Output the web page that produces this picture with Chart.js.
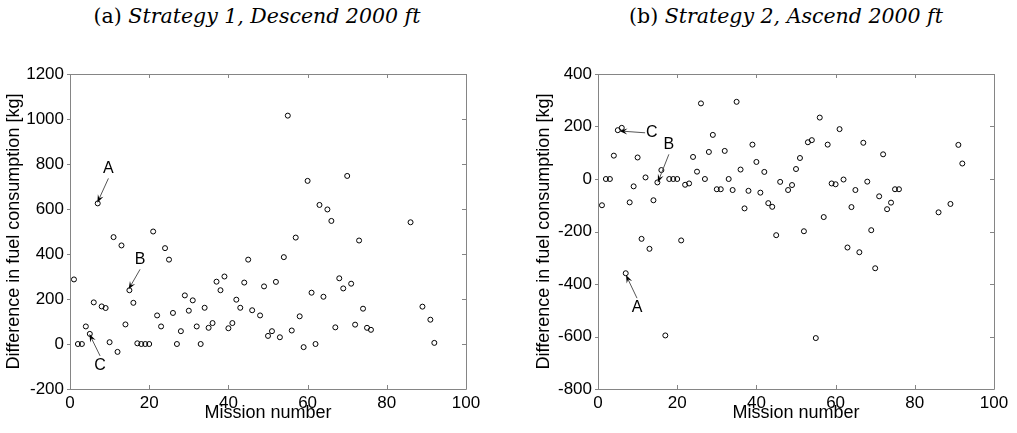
<!DOCTYPE html>
<html><head><meta charset="utf-8">
<script src="https://cdn.jsdelivr.net/npm/chart.js@4.4.1/dist/chart.umd.min.js"></script>
<style>
html,body{margin:0;padding:0;background:#fff;width:1017px;height:433px;overflow:hidden;}
.wrap{position:absolute;top:0;height:433px;}
.title{position:absolute;top:3px;font-family:"DejaVu Serif",serif;font-size:20.5px;line-height:26px;color:#000;white-space:nowrap;transform:translateX(-50%);}
</style></head><body>
<div class="title" style="left:257px">(a) <i>Strategy 1, Descend 2000 ft</i></div>
<div class="title" style="left:786px">(b) <i>Strategy 2, Ascend 2000 ft</i></div>
<div class="wrap" style="left:0;width:508px"><canvas id="c1" width="508" height="433"></canvas></div>
<div class="wrap" style="left:508px;width:509px"><canvas id="c2" width="509" height="433"></canvas></div>
<script>
// ---- data ----
const missions = [1,2,3,4,5,6,7,8,9,10,11,12,13,14,15,16,17,18,19,20,21,22,23,24,25,26,27,28,29,30,31,32,33,34,35,36,37,38,39,40,41,42,43,44,45,46,
  48,49,50,51,52,53,54,55,56,57,58,59,60,61,62,63,64,65,66,67,68,69,70,71,72,73,74,75,76,86,89,91,92];
const fuelDescend = [287,0,0,78,45,185,625,167,160,8,475,-35,438,87,239,183,3,0,0,0,500,127,78,426,375,138,0,57,216,148,194,78,0,161,72,93,277,239,300,70,93,197,161,273,375,150,
  127,256,36,57,276,30,386,1015,60,473,123,-14,725,228,0,618,210,598,547,74,292,247,747,268,86,460,157,72,63,541,166,108,5];
const fuelAscend = [-100,0,0,89,186,195,-359,-89,-28,82,-228,6,-266,-81,-13,34,-596,0,0,0,-234,-22,-17,84,28,288,0,103,168,-39,-39,107,0,-42,294,36,-112,-45,131,65,-52,27,-92,-106,-214,-11,
  -42,-23,38,80,-199,140,148,-606,234,-145,131,-17,-20,190,-2,-261,-107,-42,-279,138,-10,-195,-340,-66,94,-115,-90,-39,-39,-127,-95,130,59];
const xTicks = [0,20,40,60,80,100];
const yTicksDescend = [-200,0,200,400,600,800,1000,1200];
const yTicksAscend = [-800,-600,-400,-200,0,200,400];
const xLabel = 'Mission number';
const yLabel = 'Difference in fuel consumption [kg]';
// annotation labels: [text, textX, textY, tailX, tailY, headX, headY] in data units
const notesDescend = [['A',9.7,778,9.7,736,6.9,628],['B',17.7,376,17.7,332,14.8,243],['C',7.6,-98,7.6,-53,4.9,44]];
const notesAscend = [['C',13.6,176,11.9,176,5.4,183],['B',17.9,132,17.9,94,15.1,-13],['A',9.85,-490,9.85,-454,7.07,-366]];

const FRAME = '#858585';
const SANS = '"Liberation Sans", Arial, sans-serif';
const boxPlugin = {
  id: 'box',
  afterDatasetsDraw(chart, args, opts) {
    const ctx = chart.ctx, a = chart.chartArea;
    const xs = chart.scales.x, ys = chart.scales.y;
    ctx.save();
    ctx.strokeStyle = FRAME; ctx.lineWidth = 1;
    ctx.beginPath();
    ctx.rect(Math.round(a.left)+0.5, Math.round(a.top)+0.5, Math.round(a.right-a.left), Math.round(a.bottom-a.top));
    ctx.stroke();
    ctx.beginPath();
    const T = 4;
    opts.xt.forEach(v => {
      const px = Math.round(xs.getPixelForValue(v))+0.5;
      ctx.moveTo(px, a.bottom); ctx.lineTo(px, a.bottom - T);
      ctx.moveTo(px, a.top); ctx.lineTo(px, a.top + T);
    });
    opts.yt.forEach(v => {
      const py = Math.round(ys.getPixelForValue(v))+0.5;
      ctx.moveTo(a.left - 3, py); ctx.lineTo(a.left + 1, py);
      ctx.moveTo(a.right, py); ctx.lineTo(a.right - T, py);
    });
    ctx.stroke();
    // annotations
    opts.notes.forEach(n => {
      const [t, tx, ty, x0, y0, x1, y1] = n;
      const X0 = xs.getPixelForValue(x0), Y0 = ys.getPixelForValue(y0);
      const X1 = xs.getPixelForValue(x1), Y1 = ys.getPixelForValue(y1);
      const ang = Math.atan2(Y1 - Y0, X1 - X0);
      const L = 8, W = 3;
      const cx = Math.cos(ang), sy = Math.sin(ang);
      ctx.strokeStyle = '#555'; ctx.lineWidth = 1;
      ctx.beginPath(); ctx.moveTo(X0, Y0); ctx.lineTo(X1 - cx*L*0.6, Y1 - sy*L*0.6); ctx.stroke();
      ctx.fillStyle = '#000';
      ctx.beginPath();
      ctx.moveTo(X1, Y1);
      ctx.lineTo(X1 - cx*L - sy*W, Y1 - sy*L + cx*W);
      ctx.lineTo(X1 - cx*L*0.6, Y1 - sy*L*0.6);
      ctx.lineTo(X1 - cx*L + sy*W, Y1 - sy*L - cx*W);
      ctx.closePath(); ctx.fill();
      ctx.font = '16px ' + SANS;
      ctx.textAlign = 'center'; ctx.textBaseline = 'middle';
      ctx.fillText(t, xs.getPixelForValue(tx), ys.getPixelForValue(ty));
    });
    ctx.restore();
  }
};

function makeChart(id, values, yt, notes, yWidth, padRight, titlePad) {
  return new Chart(document.getElementById(id), {
    type: 'scatter',
    data: { datasets: [{ data: missions.map((m, i) => ({x: m, y: values[i]})),
      pointStyle: 'circle', pointRadius: 2.5, pointHoverRadius: 2.5, borderWidth: 1,
      borderColor: '#000', backgroundColor: 'rgba(0,0,0,0)' }] },
    options: {
      responsive: false, animation: false, devicePixelRatio: 1,
      layout: { padding: { left: 0, right: padRight, top: 74, bottom: 0 } },
      plugins: { legend: { display: false }, tooltip: { enabled: false }, box: { xt: xTicks, yt: yt, notes: notes } },
      scales: {
        x: { type: 'linear', min: 0, max: 100,
          afterBuildTicks: s => { s.ticks = xTicks.map(v => ({value: v})); },
          afterFit: s => { s.height = 44; },
          grid: { display: false, drawTicks: false }, border: { display: false },
          ticks: { color: '#000', padding: 4, callback: v => String(v), font: { family: SANS, size: 17 } },
          title: { display: true, text: xLabel, color: '#000', padding: { top: 0, bottom: 9 },
            font: { family: SANS, size: 18 } } },
        y: { type: 'linear', min: yt[0], max: yt[yt.length - 1],
          afterBuildTicks: s => { s.ticks = yt.map(v => ({value: v})); },
          afterFit: s => { s.width = yWidth; },
          grid: { display: false, drawTicks: false }, border: { display: false },
          ticks: { color: '#000', padding: 6, callback: v => String(v), font: { family: SANS, size: 17 } },
          title: { display: true, text: yLabel, color: '#000', padding: { top: titlePad, bottom: 0 },
            font: { family: SANS, size: 18 } } }
      }
    },
    plugins: [boxPlugin]
  });
}
makeChart('c1', fuelDescend, yTicksDescend, notesDescend, 70, 42, 3.2);
makeChart('c2', fuelAscend, yTicksAscend, notesAscend, 90, 23, 25.2);
</script>
</body></html>
